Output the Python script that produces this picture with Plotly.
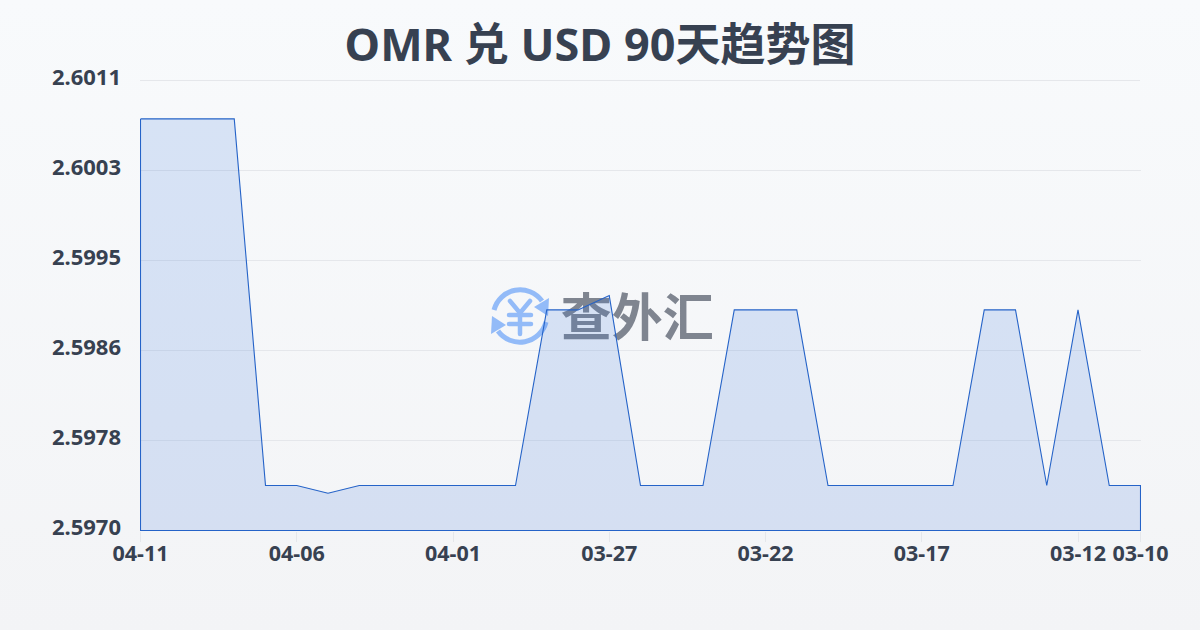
import base64
import plotly.graph_objects as go

TITLE = "OMR 兑 USD 90天趋势图"
WATERMARK = "查外汇"
dates = ["04-11","04-10","04-09","04-08","04-07","04-06","04-05","04-04","04-03","04-02","04-01",
         "03-31","03-30","03-29","03-28","03-27","03-26","03-25","03-24","03-23","03-22",
         "03-21","03-20","03-19","03-18","03-17","03-16","03-15","03-14","03-13","03-12","03-11","03-10"]
rates = [2.60075,2.60075,2.60075,2.60075,2.59741,2.59741,2.59734,2.59741,2.59741,2.59741,2.59741,
         2.59741,2.59741,2.59901,2.59901,2.59914,2.59741,2.59741,2.59741,2.59901,2.59901,
         2.59901,2.59741,2.59741,2.59741,2.59741,2.59741,2.59901,2.59901,2.59741,2.59901,2.59741,2.59741]
y_ticks = [2.5970,2.59782,2.59864,2.59946,2.60028,2.6011]
y_labels = ["2.5970","2.5978","2.5986","2.5995","2.6003","2.6011"]
x_tick_labels = ["04-11","04-06","04-01","03-27","03-22","03-17","03-12","03-10"]
BASE = 2.5970
TOP = 2.6011
X_PAD = 0.016      # half a pixel, so the outline sits on whole pixels
Y_PAD = 0.0000046  # half a pixel
PLOT_W, PLOT_H = 1001, 451

INK = "#374151"
FONT = "'Noto Sans','Noto Sans CJK SC',sans-serif"

idx = list(range(len(dates)))
bg_svg = ('<svg xmlns="http://www.w3.org/2000/svg" width="1200" height="630" preserveAspectRatio="none">'
          '<defs><linearGradient id="g" x1="0" y1="0" x2="0" y2="1"><stop offset="0" stop-color="#f8fafc"/>'
          '<stop offset="1" stop-color="#f3f4f6"/></linearGradient></defs>'
          '<rect width="1200" height="630" fill="url(#g)"/></svg>')
logo_svg = ('<svg xmlns="http://www.w3.org/2000/svg" width="64" height="64" viewBox="0 0 64 64">'
            '<g fill="none" stroke="#93bbf8" stroke-width="5" stroke-linecap="butt">'
            '<path d="M6 26 A27 27 0 0 1 54 17"/><path d="M58 38 A27 27 0 0 1 10 47"/></g>'
            '<g fill="#93bbf8"><path d="M61 14 L60 32 L46 23 Z"/><path d="M3 50 L4 32 L18 41 Z"/></g>'
            '<g fill="none" stroke="#93bbf8" stroke-width="4.5" stroke-linecap="round">'
            '<path d="M22 17 L32 29 L42 17"/><path d="M32 29 L32 50"/><path d="M21 31 L43 31"/><path d="M21 40 L43 40"/></g></svg>')
uri = lambda s: "data:image/svg+xml;base64," + base64.b64encode(s.encode()).decode()

fig = go.Figure()
fig.add_trace(go.Scatter(x=[15.9], y=[2.59889], mode="text", text=[WATERMARK],
                         textfont=dict(family="'Noto Sans CJK SC'", size=51, weight=700, color="#7f8590"),
                         textposition="middle center", hoverinfo="skip", showlegend=False, cliponaxis=False))
fig.add_trace(go.Scatter(x=idx + [idx[-1], idx[0], idx[0]], y=rates + [BASE, BASE, rates[0]],
                         mode="lines", fill="toself", fillcolor="rgba(59,120,220,0.17)",
                         line=dict(color="#2563c8", width=1.1), cliponaxis=False, showlegend=False))

fig.update_layout(
    width=1200, height=630, margin=dict(l=140, r=59, t=80, b=99),
    paper_bgcolor="#f6f7f9", plot_bgcolor="rgba(0,0,0,0)", showlegend=False,
    font=dict(family=FONT, color=INK),
    title=dict(text=TITLE, x=0.5, xanchor="center", xref="container", y=0.928, yanchor="middle",
               font=dict(family=FONT, size=45, weight=700, color=INK)),
    images=[dict(source=uri(bg_svg), xref="paper", yref="paper", x=-140/PLOT_W, y=1+80/PLOT_H,
                 sizex=1200/PLOT_W, sizey=630/PLOT_H, xanchor="left", yanchor="top", sizing="stretch", layer="below"),
            dict(source=uri(logo_svg), xref="paper", yref="paper", x=(488-140)/PLOT_W, y=(531-284)/PLOT_H,
                 sizex=64/PLOT_W, sizey=64/PLOT_H, xanchor="left", yanchor="top", sizing="stretch", layer="below")],
    shapes=[dict(type="line", xref="paper", x0=0, x1=1000/PLOT_W, yref="y", y0=TOP, y1=TOP,
                 line=dict(color="#e5e7eb", width=1), layer="below")],
)
fig.update_xaxes(range=[-X_PAD, 32 + X_PAD], tickmode="array",
                 tickvals=[dates.index(d) for d in x_tick_labels], ticktext=x_tick_labels,
                 showgrid=False, zeroline=False, showline=False, ticks="outside", ticklen=10, tickwidth=1,
                 ticklabelstandoff=-7,
                 tickcolor="#e5e7eb", tickfont=dict(family=FONT, size=21.5, weight=700, color=INK), tickangle=0)
fig.update_yaxes(range=[BASE - Y_PAD, TOP + Y_PAD], tickmode="array", tickvals=y_ticks, ticktext=y_labels,
                 showgrid=True, gridcolor="#e5e7eb", gridwidth=1, zeroline=False, showline=False,
                 ticks="", ticklabelstandoff=18, ticklabelshift=-3, tickfont=dict(family=FONT, size=22, weight=700, color=INK))
fig.write_html("out.html", config=dict(displayModeBar=False),
               post_script="document.body.style.margin='0';document.documentElement.style.background='#f6f7f9';")
